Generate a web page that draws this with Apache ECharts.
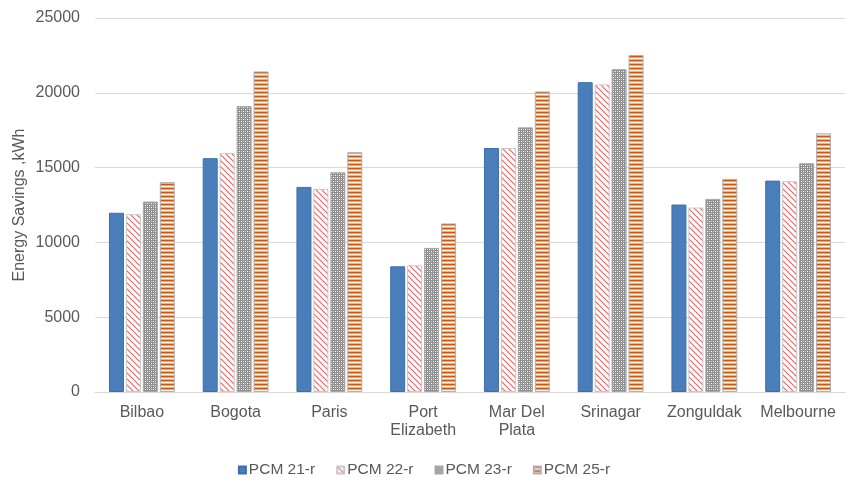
<!DOCTYPE html>
<html>
<head>
<meta charset="utf-8">
<script src="https://cdn.jsdelivr.net/npm/echarts@6/dist/echarts.min.js"></script>
<style>
html,body{margin:0;padding:0;background:#fff;}
#chart{width:848px;height:478px;}
</style>
</head>
<body>
<div id="chart"></div>
<script>
const categories = ['Bilbao', 'Bogota', 'Paris', 'Port\nElizabeth', 'Mar Del\nPlata', 'Srinagar', 'Zonguldak', 'Melbourne'];
const seriesNames = ['PCM 21-r', 'PCM 22-r', 'PCM 23-r', 'PCM 25-r'];
const pcm21 = [11980, 15630, 13710, 8400, 16310, 20710, 12530, 14130];
const pcm22 = [11890, 15980, 13580, 8470, 16310, 20560, 12330, 14090];
const pcm23 = [12730, 19110, 14690, 9630, 17690, 21580, 12910, 15290];
const pcm25 = [14030, 21430, 16030, 11270, 20090, 22530, 14250, 17290];
const yTicks = [0, 5000, 10000, 15000, 20000, 25000];

function tile(w, h, draw) {
  const c = document.createElement('canvas');
  c.width = w; c.height = h;
  const ctx = c.getContext('2d');
  draw(ctx, w, h);
  return { image: c, repeat: 'repeat' };
}
const redPattern = tile(6, 6, (ctx, w, h) => {
  ctx.fillStyle = '#ffffff'; ctx.fillRect(0, 0, w, h);
  ctx.strokeStyle = '#e36a6a'; ctx.lineWidth = 1.2;
  for (const k of [-6, 0, 6]) {
    ctx.beginPath(); ctx.moveTo(k - 1, -1); ctx.lineTo(k + 7, 7); ctx.stroke();
  }
});
const greyPattern = tile(4, 4, (ctx, w, h) => {
  ctx.fillStyle = '#8f8f8f'; ctx.fillRect(0, 0, w, h);
  ctx.fillStyle = '#ffffff'; ctx.fillRect(1, 1, 1, 1); ctx.fillRect(3, 3, 1, 1);
  ctx.fillStyle = '#cfcfcf'; ctx.fillRect(1, 3, 1, 1); ctx.fillRect(3, 1, 1, 1);
});
const orangePattern = tile(4, 4, (ctx, w, h) => {
  ctx.fillStyle = '#c55a11'; ctx.fillRect(0, 0, w, 1);
  ctx.fillStyle = '#eea36f'; ctx.fillRect(0, 1, w, 1);
  ctx.fillStyle = '#fdf1e8'; ctx.fillRect(0, 2, w, 1);
  ctx.fillStyle = '#f2b184'; ctx.fillRect(0, 3, w, 1);
});

const fills = ['#4a7ebb', redPattern, greyPattern, orangePattern];
const borders = ['#3d6ea8', '#c8c8c8', '#a6a6a6', '#b0b0b0'];
const values = [pcm21, pcm22, pcm23, pcm25];

const chart = echarts.init(document.getElementById('chart'), null, { renderer: 'canvas' });
const textColor = '#595959';
const font = 'Liberation Sans, Arial, sans-serif';

chart.setOption({
  animation: false,
  textStyle: { fontFamily: font },
  grid: { left: 95, right: 3, top: 18, bottom: 86, containLabel: false },
  legend: {
    data: seriesNames,
    left: 'center',
    top: 457,
    icon: 'rect',
    itemWidth: 7,
    itemHeight: 7,
    itemGap: 21,
    textStyle: { color: textColor, fontSize: 15.5, fontFamily: font, padding: [0, 0, 0, -2] }
  },
  xAxis: {
    type: 'category',
    data: categories,
    axisLine: { show: true, lineStyle: { color: '#d9d9d9', width: 1 } },
    axisTick: { show: false },
    axisLabel: { color: textColor, fontSize: 16, lineHeight: 18, margin: 12, interval: 0, fontFamily: font }
  },
  yAxis: {
    type: 'value',
    min: yTicks[0],
    max: yTicks[yTicks.length - 1],
    interval: yTicks[1] - yTicks[0],
    name: 'Energy Savings ,kWh',
    nameLocation: 'middle',
    nameGap: 67,
    nameMoveOverlap: false,
    nameRotate: 90,
    nameTextStyle: { color: textColor, fontSize: 16, fontFamily: font },
    axisLine: { show: false },
    axisTick: { show: false },
    axisLabel: { color: textColor, fontSize: 16, margin: 15, fontFamily: font, formatter: v => String(v) },
    splitLine: { lineStyle: { color: '#d9d9d9', width: 1 } }
  },
  series: seriesNames.map((n, i) => ({
    name: n,
    type: 'bar',
    data: values[i],
    barWidth: 15,
    barGap: '13%',
    itemStyle: { color: fills[i], borderColor: borders[i], borderWidth: 1 }
  }))
});
</script>
</body>
</html>
